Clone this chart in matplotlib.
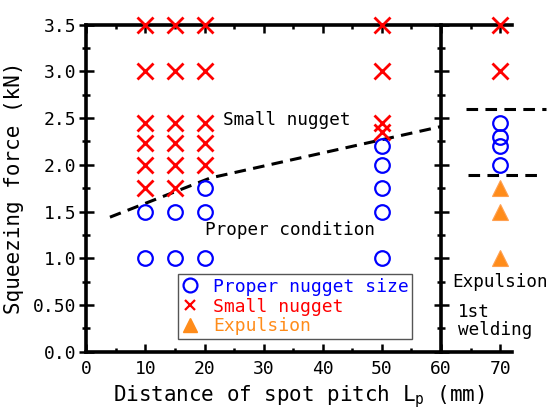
import matplotlib
matplotlib.use('Agg')
import matplotlib.pyplot as plt
from matplotlib.lines import Line2D
from matplotlib.ticker import FixedLocator, FixedFormatter

FONT = 'DejaVu Sans Mono'
plt.rcParams['font.family'] = [FONT, 'DejaVu Sans']
plt.rcParams['mathtext.fontset'] = 'custom'
plt.rcParams['mathtext.rm'] = FONT
plt.rcParams['mathtext.it'] = FONT

# ---------------- data ----------------
proper_x = [10, 10, 15, 15, 20, 20, 20, 50, 50, 50, 50, 50, 70, 70, 70, 70]
proper_y = [1.5, 1.0, 1.5, 1.0, 1.75, 1.5, 1.0, 2.2, 2.0, 1.75, 1.5, 1.0,
            2.45, 2.3, 2.2, 2.0]

small_x = [10] * 6 + [15] * 6 + [20] * 5 + [50] * 4 + [70] * 2
small_y = [3.5, 3.0, 2.45, 2.23, 2.0, 1.75,
           3.5, 3.0, 2.45, 2.23, 2.0, 1.75,
           3.5, 3.0, 2.45, 2.23, 2.0,
           3.5, 3.0, 2.45, 2.35,
           3.5, 3.0]

expul_x = [70, 70, 70]
expul_y = [1.75, 1.5, 1.0]

boundary_x = [4, 21, 60]
boundary_y = [1.44, 1.86, 2.41]

weld_upper_x = [64.3, 77.7]
weld_upper_y = [2.60, 2.60]
weld_lower_x = [64.6, 77.2]
weld_lower_y = [1.89, 1.89]

x_ticks = [0, 10, 20, 30, 40, 50, 60, 70]
x_minor = [5, 15, 25, 35, 45, 55, 65]
y_ticks = [0.0, 0.5, 1.0, 1.5, 2.0, 2.5, 3.0, 3.5]
y_labels = ['0.0', '0.50', '1.0', '1.5', '2.0', '2.5', '3.0', '3.5']
y_minor = [0.25, 0.75, 1.25, 1.75, 2.25, 2.75, 3.25]

legend_labels = ['Proper nugget size', 'Small nugget', 'Expulsion']

BLUE = '#0000FF'
RED = '#FF0000'
ORANGE = '#FF8C1A'

# ---------------- figure ----------------
W, H = 551, 409
fig = plt.figure(figsize=(W / 100, H / 100), dpi=100)
left, right, top, bottom = 86.3, 512.0, 24.7, 351.7
ax = fig.add_axes([left / W, 1 - bottom / H, (right - left) / W, (bottom - top) / H])
ax.set_xlim(0, 72)
ax.set_ylim(0, 3.5)

SPW = 2.6
for s in ['left', 'top', 'bottom']:
    ax.spines[s].set_linewidth(SPW)
ax.spines['right'].set_visible(False)

ax.xaxis.set_major_locator(FixedLocator(x_ticks))
ax.xaxis.set_minor_locator(FixedLocator(x_minor))
ax.yaxis.set_major_locator(FixedLocator(y_ticks))
ax.yaxis.set_major_formatter(FixedFormatter(y_labels))
ax.yaxis.set_minor_locator(FixedLocator(y_minor))

ax.tick_params(axis='x', which='major', direction='in', length=5.5, width=1.8,
               top=True, bottom=True, labelsize=13, pad=6)
ax.tick_params(axis='x', which='minor', direction='in', length=2.6, width=1.8,
               top=True, bottom=True)
ax.tick_params(axis='y', which='major', direction='inout', length=10.8, width=1.8,
               left=True, right=False, labelsize=13, pad=2)
ax.tick_params(axis='y', which='minor', direction='inout', length=6, width=1.8,
               left=True, right=False)

ax.set_xlabel('Distance of spot pitch L$_{\\mathrm{p}}$ (mm)', fontsize=15, labelpad=4)
ax.set_ylabel('Squeezing force (kN)', fontsize=15, labelpad=6)

# second vertical axis line at x = 60
ax2 = ax.twinx()
ax2.set_ylim(0, 3.5)
for s in ['left', 'top', 'bottom']:
    ax2.spines[s].set_visible(False)
ax2.spines['right'].set_position(('data', 60))
ax2.spines['right'].set_linewidth(SPW)
ax2.yaxis.set_major_locator(FixedLocator(y_ticks))
ax2.yaxis.set_minor_locator(FixedLocator(y_minor))
ax2.tick_params(axis='y', which='major', direction='inout', length=10.8, width=1.8,
                labelright=False)
ax2.tick_params(axis='y', which='minor', direction='inout', length=6, width=1.8,
                labelright=False)

# ---------------- marks ----------------
ax.plot(boundary_x, boundary_y, color='black', lw=2.2, ls=(0, (3.8, 2.4)), zorder=4)
ax.plot(weld_upper_x, weld_upper_y, color='black', lw=2.2, ls=(0, (3.8, 2.4)),
        clip_on=False, zorder=4)
ax.plot(weld_lower_x, weld_lower_y, color='black', lw=2.2, ls=(0, (3.8, 2.4)),
        clip_on=False, zorder=4)

ax.plot(proper_x, proper_y, ls='none', marker='o', ms=10.5, mfc='none', mec=BLUE,
        mew=1.6, clip_on=False, zorder=5)
ax.plot(small_x, small_y, ls='none', marker='x', ms=11, mec=RED, mew=2.0,
        clip_on=False, zorder=5)
ax.plot(expul_x, expul_y, ls='none', marker='^', ms=12, mfc=ORANGE, mec='#FFA050',
        mew=0.8, clip_on=False, zorder=5)

# ---------------- annotations ----------------
ax.text(23.2, 2.48, 'Small nugget', fontsize=12.7, va='center', ha='left')
ax.text(20.1, 1.30, 'Proper condition', fontsize=12.7, va='center', ha='left')
ax.text(61.9, 0.75, 'Expulsion', fontsize=12.7, va='center', ha='left')
ax.text(62.9, 0.33, '1st\nwelding', fontsize=12.7, va='center', ha='left',
        linespacing=1.0)

# ---------------- legend ----------------
handles = [
    Line2D([], [], ls='none', marker='o', ms=10, mfc='none', mec=BLUE, mew=1.6),
    Line2D([], [], ls='none', marker='x', ms=7, mec=RED, mew=1.6),
    Line2D([], [], ls='none', marker='^', ms=10, mfc=ORANGE, mec=ORANGE),
]
leg = ax.legend(handles, legend_labels, loc='lower left',
                bbox_to_anchor=(0.215, 0.039), fontsize=13, frameon=True,
                fancybox=False, framealpha=1, edgecolor='#555555',
                handlelength=1.0, handletextpad=0.75, borderpad=0.2,
                labelspacing=0.1, borderaxespad=0)
leg.get_frame().set_linewidth(1.0)
for t, c in zip(leg.get_texts(), [BLUE, RED, ORANGE]):
    t.set_color(c)
leg.set_zorder(6)

fig.savefig('out.png', dpi=100)
